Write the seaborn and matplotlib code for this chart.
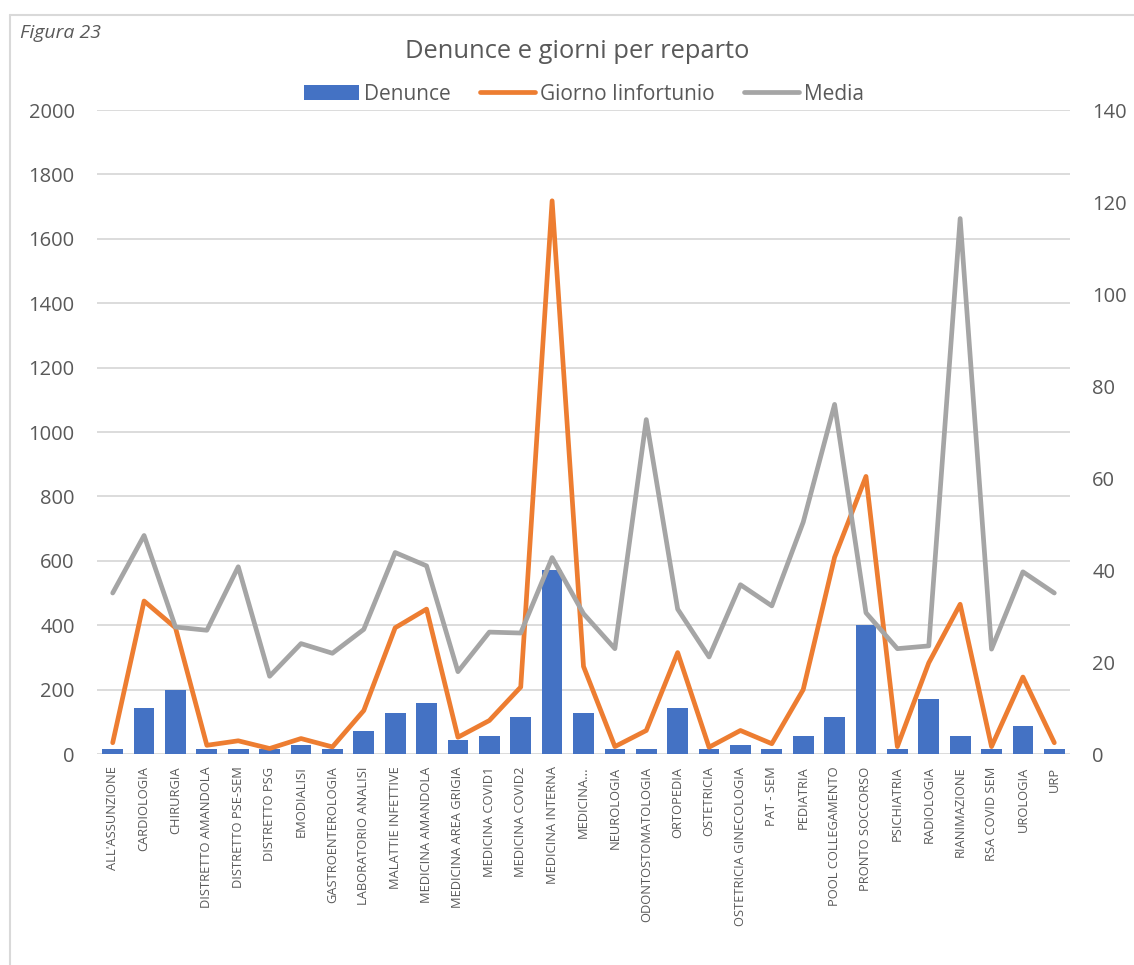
import numpy as np
import matplotlib
matplotlib.use("Agg")
import matplotlib.pyplot as plt
from matplotlib.lines import Line2D
from matplotlib.patches import Patch
import seaborn as sns

# Reparti (asse delle categorie)
categories = [
    "ALL'ASSUNZIONE", "CARDIOLOGIA", "CHIRURGIA", "DISTRETTO AMANDOLA",
    "DISTRETTO PSE-SEM", "DISTRETTO PSG", "EMODIALISI", "GASTROENTEROLOGIA",
    "LABORATORIO ANALISI", "MALATTIE INFETTIVE", "MEDICINA AMANDOLA",
    "MEDICINA AREA GRIGIA", "MEDICINA COVID1", "MEDICINA COVID2",
    "MEDICINA INTERNA", "MEDICINA...", "NEUROLOGIA", "ODONTOSTOMATOLOGIA",
    "ORTOPEDIA", "OSTETRICIA", "OSTETRICIA GINECOLOGIA", "PAT - SEM",
    "PEDIATRIA", "POOL COLLEGAMENTO", "PRONTO SOCCORSO", "PSICHIATRIA",
    "RADIOLOGIA", "RIANIMAZIONE", "RSA COVID SEM", "UROLOGIA", "URP",
]

# Numero di denunce (asse destro)
denunce = [1, 10, 14, 1, 1, 1, 2, 1, 5, 9, 11, 3, 4, 8, 40, 9, 1, 1, 10, 1,
           2, 1, 4, 8, 28, 1, 12, 4, 1, 6, 1]

# Giorni di infortunio (asse sinistro)
giorni = [35, 475, 392, 27, 41, 17, 48, 22, 135, 392, 450, 52, 104, 208, 1718,
          272, 23, 73, 315, 21, 73, 32, 200, 611, 862, 23, 283, 465, 23, 239, 35]

# Media giorni per denuncia (asse destro)
media = [35, 47.5, 27.6, 26.9, 40.7, 16.9, 24, 21.9, 27.1, 43.8, 40.9, 17.9,
         26.5, 26.3, 42.7, 30.5, 22.9, 72.7, 31.5, 21.1, 36.8, 32.2, 50.4, 76,
         30.7, 22.9, 23.5, 116.4, 22.8, 39.6, 35]

left_ticks = [0, 200, 400, 600, 800, 1000, 1200, 1400, 1600, 1800, 2000]
right_ticks = [0, 20, 40, 60, 80, 100, 120, 140]

BLUE = "#4472C4"
ORANGE = "#ED7D31"
GREY = "#A5A5A5"
TEXT = "#595959"
GRID = "#D9D9D9"
LW = 3.4

sns.set_theme(style="white")
plt.rcParams["font.family"] = ["Open Sans", "DejaVu Sans"]

W, H = 1134, 965
fig = plt.figure(figsize=(W / 100, H / 100), dpi=100)
ax = fig.add_axes([97 / W, 1 - 754 / H, (1070 - 97) / W, (754 - 110) / H])

pos = np.arange(len(categories))

# Axis with grid, left scale and the category labels
ax.set_ylim(0, 2000)
ax.set_yticks(left_ticks)
ax.yaxis.grid(True, color=GRID, linewidth=1.3)
ax.set_axisbelow(True)

# Bars: Denunce on the right scale
ax_bar = ax.twinx()
sns.barplot(x=pos, y=denunce, ax=ax_bar, native_scale=True, color=BLUE,
            width=0.66, saturation=1, linewidth=0)
ax_bar.set_ylim(0, 140)
ax_bar.set_yticks(right_ticks)

# Orange line: giorni on the left scale
ax_or = ax.twinx()
sns.lineplot(x=pos, y=giorni, ax=ax_or, color=ORANGE, linewidth=LW, sort=False,
             solid_capstyle="round", solid_joinstyle="round")
ax_or.set_ylim(0, 2000)
ax_or.set_yticks([])

# Grey line: media on the right scale
ax_gr = ax.twinx()
sns.lineplot(x=pos, y=media, ax=ax_gr, color=GREY, linewidth=LW, sort=False,
             solid_capstyle="round", solid_joinstyle="round")
ax_gr.set_ylim(0, 140)
ax_gr.set_yticks([])

for a in (ax, ax_bar, ax_or, ax_gr):
    a.set_xlim(-0.5, len(categories) - 0.5)
    a.set_xlabel("")
    a.set_ylabel("")
    for s in a.spines.values():
        s.set_visible(False)

ax.set_xticks(pos)
ax.set_xticklabels(categories, rotation=90, fontsize=9.3, color=TEXT)
ax.tick_params(axis="x", length=0, pad=9)
ax.tick_params(axis="y", length=0, pad=16, labelsize=14.5, labelcolor=TEXT)
ax_bar.tick_params(axis="y", length=0, pad=16, labelsize=14.5, labelcolor=TEXT)

# Title, figure caption and legend
fig.text(577 / W, 1 - 52 / H, "Denunce e giorni per reparto", ha="center",
         va="center", fontsize=18.4, color=TEXT)
fig.text(20 / W, 1 - 33 / H, "Figura 23", ha="left", va="center",
         fontsize=14, style="italic", color=TEXT)

handles = [
    Patch(facecolor=BLUE, edgecolor="none"),
    Line2D([], [], color=ORANGE, linewidth=LW, solid_capstyle="round"),
    Line2D([], [], color=GREY, linewidth=LW, solid_capstyle="round"),
]
fig.legend(handles, ["Denunce", "Giorno Iinfortunio", "Media"],
           loc="center", bbox_to_anchor=(584 / W, 1 - 94 / H), ncol=3,
           frameon=False, fontsize=15, labelcolor=TEXT, handlelength=2.65,
           handleheight=0.7, handletextpad=0.25, columnspacing=1.4,
           borderpad=0)

# Light frame along the top and left edges
fig.add_artist(Line2D([10 / W, 10 / W], [0, 1 - 15 / H],
                      transform=fig.transFigure, color=GRID, linewidth=1.5))
fig.add_artist(Line2D([10 / W, 1], [1 - 15 / H, 1 - 15 / H],
                      transform=fig.transFigure, color=GRID, linewidth=1.5))

fig.savefig("out.png", dpi=100, facecolor="white")
